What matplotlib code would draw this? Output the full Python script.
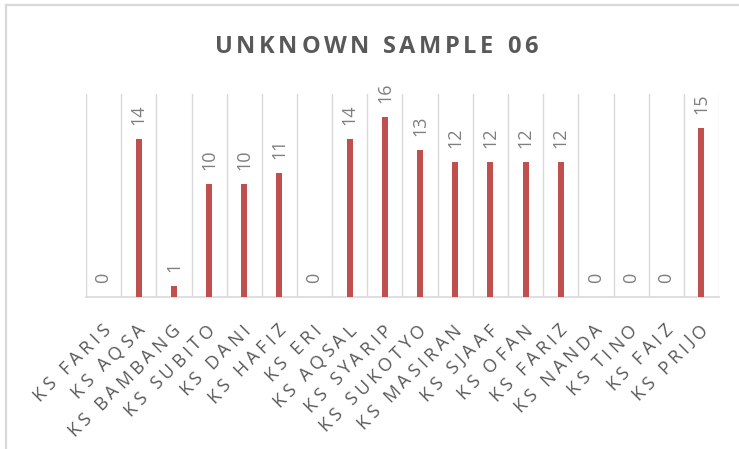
import numpy as np
import matplotlib.pyplot as plt
from matplotlib.lines import Line2D
from matplotlib.font_manager import FontProperties

names = ['KS FARIS', 'KS AQSA', 'KS BAMBANG', 'KS SUBITO', 'KS DANI', 'KS HAFIZ',
         'KS ERI', 'KS AQSAL', 'KS SYARIP', 'KS SUKOTYO', 'KS MASIRAN', 'KS SJAAF',
         'KS OFAN', 'KS FARIZ', 'KS NANDA', 'KS TINO', 'KS FAIZ', 'KS PRIJO']
counts = [0, 14, 1, 10, 10, 11, 0, 14, 16, 13, 12, 12, 12, 12, 0, 0, 0, 15]
title = 'UNKNOWN SAMPLE 06'

bar_col = '#C0504D'
grid_col = '#D9D9D9'
W, H = 739, 449

plt.rcParams['font.family'] = ['Open Sans', 'DejaVu Sans']

fig = plt.figure(figsize=(W / 100, H / 100), dpi=100)
renderer = fig.canvas.get_renderer()

# chart border: only left and top edges fall inside the image
bx, by = 5.5 / W, 1 - 4.5 / H
fig.add_artist(Line2D([bx, bx], [0, by], transform=fig.transFigure,
                      color=grid_col, linewidth=1.6))
fig.add_artist(Line2D([bx, 1], [by, by], transform=fig.transFigure,
                      color=grid_col, linewidth=1.6))


def spaced_text(x, y, s, gap, angle=0, align='left', **kw):
    """Draw s letter by letter with extra spacing (x, y in pixels)."""
    fp = FontProperties(family=plt.rcParams['font.family'],
                        size=kw.get('fontsize', 10),
                        weight=kw.get('fontweight', 'normal'))
    px = fp.get_size_in_points() * 100 / 72
    widths = []
    for c in s:
        if c == ' ':
            widths.append(px * 0.26)
        else:
            widths.append(renderer.get_text_width_height_descent(c, fp, ismath=False)[0])
    pos = np.concatenate([[0], np.cumsum(np.array(widths) + gap)])
    total = pos[-1] - gap
    if align == 'right':
        start = -total
    elif align == 'center':
        start = -total / 2
    else:
        start = 0
    ca, sa = np.cos(np.radians(angle)), np.sin(np.radians(angle))
    for c, p in zip(s, pos[:-1]):
        if c == ' ':
            continue
        d = start + p
        fig.text((x + d * ca) / W, (y + d * sa) / H, c, rotation=angle,
                 rotation_mode='anchor', ha='left', va='baseline', **kw)


ax = fig.add_axes([86 / W, 1 - 297 / H, 633 / W, 203 / H])
x = np.arange(len(names))
ax.bar(x, counts, width=0.17, color=bar_col, zorder=3)
ax.set_xlim(-0.5, len(names) - 0.5)
ax.set_ylim(0, 18)

# vertical separators between categories
for b in np.arange(-0.5, len(names), 1.0):
    ax.axvline(b, color=grid_col, linewidth=1.0, zorder=1)

for s in ['top', 'right', 'left']:
    ax.spines[s].set_visible(False)
ax.spines['bottom'].set_color(grid_col)
ax.spines['bottom'].set_linewidth(1.2)
ax.set_yticks([])
ax.set_xticks([])

for xi, v in zip(x, counts):
    ax.annotate(str(v), (xi, v), xytext=(0, 10), textcoords='offset points',
                rotation=90, ha='center', va='bottom', fontsize=13,
                color='#7F7F7F')

# category labels, rotated 45 degrees and ending just right of each category
for xi, name in zip(x, names):
    cx, _ = ax.transData.transform((xi, 0))
    spaced_text(cx + 7, H - 331, name, gap=4.0, angle=45, align='right',
                fontsize=13, color='#595959')

spaced_text(376, H - 53.3, title, gap=3.6, align='center',
            fontsize=17, fontweight='bold', color='#595959')

fig.savefig('out.png', dpi=100)
